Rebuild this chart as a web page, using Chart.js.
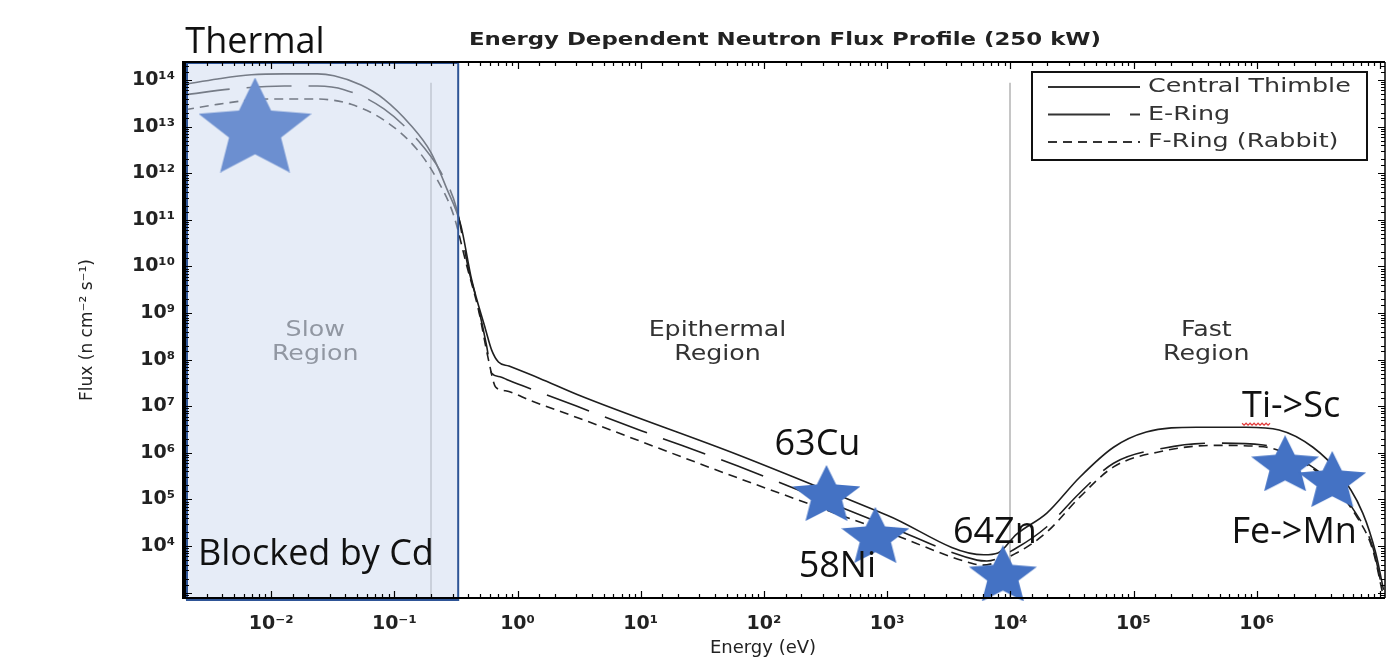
<!DOCTYPE html>
<html lang="en">
<head>
<meta charset="UTF-8">
<title>Energy Dependent Neutron Flux Profile (250 kW)</title>
<script src="https://cdn.jsdelivr.net/npm/chart.js@4.4.1/dist/chart.umd.min.js"></script>
<style>
  html, body { margin: 0; padding: 0; background: #fff; }
  #wrap { width: 1391px; height: 659px; }
</style>
</head>
<body>
<div id="wrap"><canvas id="fluxChart" width="1391" height="659"></canvas></div>

<script>
    // neutron energy (eV) and flux (n cm^-2 s^-1)
    var centralEnergy = [0.002, 0.00367, 0.00692, 0.0128, 0.0237, 0.0324, 0.0537, 0.0824, 0.136, 0.198, 0.267, 0.346, 0.425, 0.551, 0.617, 0.70, 0.85, 1.5, 3.12, 61.4, 1000, 6110, 7940, 11200, 19800, 36600, 68900, 1.27e5, 3.24e5, 8.2e5, 1.52e6, 2.86e6, 4.65e6, 7.26e6, 9.25e6, 1.07e7];
    var centralFlux = [8.1e13, 1.05e14, 1.29e14, 1.35e14, 1.35e14, 1.23e14, 7.8e13, 3.9e13, 1.07e13, 2.8e12, 4.6e11, 7.8e10, 5.1e9, 4.4e8, 1.6e8, 8.9e7, 7.3e7, 4.0e7, 1.74e7, 9.1e5, 4.6e4, 6.5e3, 7.1e3, 1.78e4, 5.1e4, 3.0e5, 1.32e6, 2.8e6, 3.55e6, 3.55e6, 3.1e6, 1.32e6, 3.7e5, 5.1e4, 7.1e3, 1.15e3];

    var eRingEnergy = [0.002, 0.00504, 0.0128, 0.0237, 0.0391, 0.0824, 0.152, 0.238, 0.321, 0.402, 0.466, 0.561, 0.617, 0.72, 0.845, 1.6, 10.1, 61.4, 1000, 5370, 6460, 11200, 19800, 36600, 68900, 1.75e5, 4.44e5, 1.13e6, 2.08e6, 3.85e6, 6.37e6, 8.75e6, 1.07e7];
    var eRingFlux = [4.8e13, 6.5e13, 7.4e13, 7.4e13, 6.2e13, 2.4e13, 5.4e12, 1.07e12, 1.7e11, 8.3e9, 1.9e9, 2.0e8, 5.1e7, 4.3e7, 3.6e7, 1.9e7, 3.0e6, 5.2e5, 2.75e4, 5.0e3, 4.8e3, 9.1e3, 2.6e4, 1.38e5, 6.0e5, 1.26e6, 1.62e6, 1.48e6, 8.1e5, 2.6e5, 5.1e4, 9.5e3, 8.9e2];

    var fRingEnergy = [0.002, 0.00367, 0.00933, 0.0237, 0.0446, 0.0824, 0.152, 0.221, 0.303, 0.386, 0.483, 0.582, 0.664, 0.8, 1.3, 3.12, 61.4, 1000, 4680, 5890, 11200, 19800, 36600, 68900, 1.75e5, 4.44e5, 1.13e6, 2.08e6, 3.85e6, 6.37e6, 8.75e6, 1.07e7];
    var fRingFlux = [2.3e13, 3.0e13, 3.9e13, 3.9e13, 3.0e13, 1.38e13, 3.3e12, 7.6e11, 1.26e11, 1.07e10, 1.15e9, 9.8e7, 2.6e7, 2.15e7, 1.3e7, 5.6e6, 2.9e5, 2.0e4, 4.4e3, 3.9e3, 7.1e3, 2.0e4, 1.12e5, 5.0e5, 1.1e6, 1.45e6, 1.35e6, 7.6e5, 2.4e5, 4.6e4, 8.3e3, 7.9e2];

    var seriesNames = ['Central Thimble', 'E-Ring', 'F-Ring (Rabbit)'];

    // marked reactions (stars)
    var starLabels = ['Thermal', '63Cu', '58Ni', '64Zn', 'Ti->Sc', 'Fe->Mn'];
    var starEnergy = [7.4e-3, 322, 803, 8700, 1.7e6, 4.1e6];
    var starFlux = [1.08e13, 1.38e5, 1.74e4, 2.6e3, 6.0e5, 2.75e5];

    var regionNames = [['Slow', 'Region'], ['Epithermal', 'Region'], ['Fast', 'Region']];
    var regionEnergy = [0.0228, 42, 3.9e5];
    var boundaryEnergy = [0.2, 1e4];
    var boundaryTopFlux = 8.7e13;
    var cadmiumCutoff = 0.33;

    var xTickExps = [-2, -1, 0, 1, 2, 3, 4, 5, 6];
    var yTickExps = [4, 5, 6, 7, 8, 9, 10, 11, 12, 13, 14];

    var SUP = { '0': '\u2070', '1': '\u00b9', '2': '\u00b2', '3': '\u00b3', '4': '\u2074', '5': '\u2075', '6': '\u2076', '7': '\u2077', '8': '\u2078', '9': '\u2079', '-': '\u207b' };
    function powLabel(e) {
        return '10' + String(e).split('').map(function (c) { return SUP[c]; }).join('');
    }
    function decadeOf(v) {
        var l = Math.log10(v), r = Math.round(l);
        return Math.abs(l - r) < 1e-6 ? r : null;
    }
    function tickCallback(list) {
        return function (value) {
            var e = decadeOf(value);
            return (e !== null && list.indexOf(e) >= 0) ? powLabel(e) : '';
        };
    }
    function pairs(xs, ys) {
        return xs.map(function (x, i) { return { x: x, y: ys[i] }; });
    }

    function makeStar(w, h, color) {
        var c = document.createElement('canvas');
        c.width = w; c.height = h;
        var g = c.getContext('2d');
        var sx = 0.9511, top = 1, bot = 0.809;
        g.beginPath();
        for (var k = 0; k < 10; k++) {
            var a = -Math.PI / 2 + k * Math.PI / 5;
            var r = (k % 2 === 0) ? 1 : 0.46;
            var px = (r * Math.cos(a) + sx) / (2 * sx) * w;
            var py = (r * Math.sin(a) + top) / (top + bot) * h;
            if (k === 0) g.moveTo(px, py); else g.lineTo(px, py);
        }
        g.closePath();
        g.fillStyle = color;
        g.fill();
        return c;
    }
    var bigStar = makeStar(113, 95, 'rgb(108,143,208)');
    var smallStar = makeStar(68, 56, '#4472c4');
    var starStyles = starLabels.map(function (s, i) { return i === 0 ? bigStar : smallStar; });

    // label offsets from each star (px)
    var starLabelOffset = [[0, -82], [-9, -48], [-38, 32], [-8, -41], [6, -56], [-38, 54]];
    var legendDash = [[], [62, 20, 10, 200], [9, 6]];

    function drawText(ctx, s, x, y, font, color, align, sx) {
        ctx.save();
        ctx.font = font;
        ctx.fillStyle = color;
        ctx.textAlign = align || 'center';
        ctx.textBaseline = 'middle';
        ctx.translate(x, y);
        ctx.scale(sx || 1, 1);
        ctx.fillText(s, 0, 0);
        ctx.restore();
    }

    var decorations = {
        id: 'decorations',
        beforeDatasetsDraw: function (chart) {
            var ctx = chart.ctx, xs = chart.scales.x, ys = chart.scales.y, ca = chart.chartArea;
            ctx.save();
            ctx.strokeStyle = '#c6c6c6';
            ctx.lineWidth = 2;
            boundaryEnergy.forEach(function (e) {
                var px = Math.round(xs.getPixelForValue(e));
                ctx.beginPath();
                ctx.moveTo(px, ys.getPixelForValue(boundaryTopFlux));
                ctx.lineTo(px, ca.bottom);
                ctx.stroke();
            });
            ctx.restore();
            regionNames.forEach(function (lines, i) {
                var px = xs.getPixelForValue(regionEnergy[i]);
                var col = i === 0 ? '#555' : '#333';
                drawText(ctx, lines[0], px, ca.top + 268, '22px "DejaVu Sans"', col, 'center', 1.15);
                drawText(ctx, lines[1], px, ca.top + 292, '22px "DejaVu Sans"', col, 'center', 1.15);
            });
        },
        beforeDatasetDraw: function (chart, args) {
            if (args.index !== 0) return;
            var ctx = chart.ctx, ca = chart.chartArea;
            var xr = chart.scales.x.getPixelForValue(cadmiumCutoff);
            ctx.save();
            ctx.fillStyle = 'rgba(205,218,240,0.5)';
            ctx.fillRect(ca.left, ca.top, xr - ca.left, ca.bottom + 2 - ca.top);
            ctx.strokeStyle = '#2f5597';
            ctx.lineWidth = 2;
            ctx.strokeRect(ca.left + 2, ca.top + 1, xr - ca.left - 2, ca.bottom + 1 - ca.top);
            ctx.restore();
        },
        afterDraw: function (chart) {
            var ctx = chart.ctx, xs = chart.scales.x, ys = chart.scales.y, ca = chart.chartArea;
            ctx.save();
            // inward tick marks on all four sides
            ctx.strokeStyle = '#000';
            ctx.lineWidth = 1.2;
            ctx.beginPath();
            xs.ticks.forEach(function (t) {
                var px = Math.round(xs.getPixelForValue(t.value)) + 0.5;
                if (px < ca.left + 2 || px > ca.right - 2) return;
                var len = decadeOf(t.value) !== null ? 7 : 4;
                ctx.moveTo(px, ca.bottom); ctx.lineTo(px, ca.bottom - len);
                ctx.moveTo(px, ca.top); ctx.lineTo(px, ca.top + len);
            });
            ys.ticks.forEach(function (t) {
                var py = Math.round(ys.getPixelForValue(t.value)) + 0.5;
                if (py < ca.top + 2 || py > ca.bottom - 2) return;
                var len = decadeOf(t.value) !== null ? 7 : 4;
                ctx.moveTo(ca.left, py); ctx.lineTo(ca.left + len, py);
                ctx.moveTo(ca.right, py); ctx.lineTo(ca.right - len, py);
            });
            ctx.stroke();
            // frame
            ctx.lineWidth = 2;
            ctx.beginPath();
            ctx.moveTo(ca.left, ca.top); ctx.lineTo(ca.right, ca.top);
            ctx.moveTo(ca.left, ca.bottom); ctx.lineTo(ca.right, ca.bottom);
            ctx.stroke();
            ctx.lineWidth = 1.5;
            ctx.beginPath();
            ctx.moveTo(ca.right, ca.top); ctx.lineTo(ca.right, ca.bottom);
            ctx.stroke();
            ctx.lineWidth = 4;
            ctx.beginPath();
            ctx.moveTo(ca.left - 1, ca.top - 1); ctx.lineTo(ca.left - 1, ca.bottom + 1);
            ctx.stroke();

            // legend box
            var lx = ca.right - 353, ly = ca.top + 10;
            ctx.lineWidth = 2;
            ctx.strokeStyle = '#111';
            ctx.strokeRect(lx, ly, 335, 88);
            seriesNames.forEach(function (name, i) {
                var ry = ly + 15 + i * 27.5;
                ctx.save();
                ctx.strokeStyle = '#333';
                ctx.lineWidth = 1.8;
                ctx.setLineDash(legendDash[i]);
                ctx.beginPath();
                ctx.moveTo(lx + 16, ry); ctx.lineTo(lx + 108, ry);
                ctx.stroke();
                ctx.restore();
                drawText(ctx, name, lx + 116, ry, '20px "DejaVu Sans"', '#333', 'left', 1.27);
            });
            ctx.restore();

            // titles
            drawText(ctx, 'Energy Dependent Neutron Flux Profile (250 kW)', 785, 40, 'bold 18px "DejaVu Sans"', '#222', 'center', 1.27);
            drawText(ctx, 'Energy (eV)', 763, 648, '18px "DejaVu Sans"', '#222', 'center', 1);
            ctx.save();
            ctx.translate(88, (ca.top + ca.bottom) / 2);
            ctx.rotate(-Math.PI / 2);
            drawText(ctx, 'Flux (n cm\u207b\u00b2 s\u207b\u00b9)', 0, 0, '17px "DejaVu Sans"', '#222', 'center', 1);
            ctx.restore();

            // star annotations
            var annFont = '36px "Open Sans"';
            starLabels.forEach(function (s, i) {
                var px = xs.getPixelForValue(starEnergy[i]) + starLabelOffset[i][0];
                var py = ys.getPixelForValue(starFlux[i]) + starLabelOffset[i][1];
                drawText(ctx, s, px, py, annFont, '#111', 'center', 1);
                if (s === 'Ti->Sc') {
                    ctx.save();
                    ctx.font = annFont;
                    var w = ctx.measureText(s).width, tw = ctx.measureText('Ti').width;
                    var x0 = px - w / 2, uy = py + 16;
                    ctx.strokeStyle = '#e23b3b';
                    ctx.lineWidth = 1.2;
                    ctx.beginPath();
                    for (var k = 0; x0 + k * 2 <= x0 + tw; k++) {
                        var yy = uy + (k % 2 === 0 ? 0 : 2);
                        if (k === 0) ctx.moveTo(x0, yy); else ctx.lineTo(x0 + k * 2, yy);
                    }
                    ctx.stroke();
                    ctx.restore();
                }
            });
            drawText(ctx, 'Blocked by Cd', ca.left + 13, ca.bottom - 43, annFont, '#111', 'left', 1);
        }
    };

    var lineStyle = { borderColor: '#1e1e1e', borderWidth: 1.6, pointRadius: 0, fill: false, cubicInterpolationMode: 'monotone' };

    var chart = new Chart(document.getElementById('fluxChart').getContext('2d'), {
        type: 'line',
        data: {
            datasets: [
                {
                    label: 'Reactions',
                    data: pairs(starEnergy, starFlux),
                    showLine: false,
                    pointStyle: starStyles,
                    pointRadius: 5,
                    clip: false
                },
                Object.assign({ label: seriesNames[0], data: pairs(centralEnergy, centralFlux) }, lineStyle),
                Object.assign({ label: seriesNames[1], data: pairs(eRingEnergy, eRingFlux), borderDash: [45, 17] }, lineStyle),
                Object.assign({ label: seriesNames[2], data: pairs(fRingEnergy, fRingFlux), borderDash: [9, 6] }, lineStyle)
            ]
        },
        options: {
            responsive: false,
            animation: false,
            layout: { padding: { top: 62, right: 2, left: 0, bottom: 0 } },
            plugins: { legend: { display: false }, tooltip: { enabled: false } },
            scales: {
                x: {
                    type: 'logarithmic',
                    min: 0.002,
                    max: 1.1e7,
                    grid: { display: false, drawTicks: false },
                    border: { display: false },
                    ticks: {
                        autoSkip: false, maxRotation: 0, padding: 15,
                        color: '#222', font: { family: 'DejaVu Sans', size: 19, weight: 'bold' },
                        callback: tickCallback(xTickExps)
                    },
                    afterFit: function (s) { s.height = 61; s.paddingLeft = 0; s.paddingRight = 0; }
                },
                y: {
                    type: 'logarithmic',
                    min: 770,
                    max: 2.43e14,
                    grid: { display: false, drawTicks: false },
                    border: { display: false },
                    ticks: {
                        autoSkip: false, padding: 10,
                        color: '#222', font: { family: 'DejaVu Sans', size: 19, weight: 'bold' },
                        callback: tickCallback(yTickExps)
                    },
                    afterFit: function (s) { s.width = 185; s.paddingTop = 0; s.paddingBottom = 0; }
                }
            }
        },
        plugins: [decorations]
    });
</script>
</body>
</html>
